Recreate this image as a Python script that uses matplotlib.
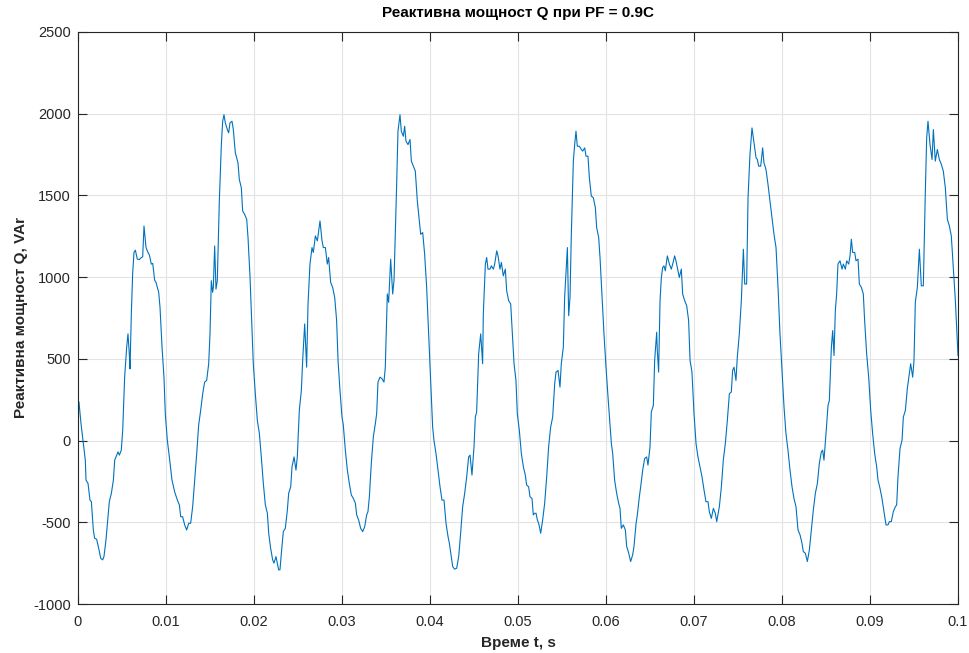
import matplotlib
matplotlib.use("Agg")
import matplotlib.pyplot as plt
import numpy as np

# time in ms, reactive power in VAr
t_ms = [0.11, 0.34, 0.61, 0.83, 0.91, 1.14, 1.36, 1.52, 1.74, 1.89, 2.12, 2.35, 2.58, 2.80, 2.95,
        3.18, 3.41, 3.56, 3.79, 4.02, 4.17, 4.32, 4.55, 4.70, 4.92, 5.08, 5.30, 5.53, 5.68, 5.83,
        5.91, 6.06, 6.21, 6.36, 6.52, 6.74, 6.97, 7.20, 7.35, 7.50, 7.73, 7.95, 8.11, 8.33, 8.49,
        8.71, 8.86,
        9.17, 9.32, 9.55, 9.77, 9.92, 10.15, 10.38, 10.68, 10.98, 11.29, 11.52, 11.67, 11.89, 12.12,
        12.35, 12.58, 12.80, 13.03, 13.26, 13.49, 13.71, 13.94, 14.17, 14.39, 14.62, 14.85, 15.00,
        15.15, 15.30, 15.38, 15.53, 15.68, 15.83, 16.06, 16.29, 16.44, 16.59, 16.74, 16.97, 17.12,
        17.27, 17.50, 17.65, 17.88, 18.03, 18.18,
        18.33, 18.56, 18.71, 18.94, 19.17, 19.32, 19.55, 19.77, 19.92, 20.15, 20.38, 20.61, 20.83,
        21.06, 21.29, 21.52, 21.67, 21.89, 22.12, 22.27, 22.50, 22.65, 22.80, 22.95, 23.11, 23.33,
        23.56, 23.79, 23.94, 24.17, 24.32, 24.55, 24.77, 24.92, 25.15, 25.38, 25.53, 25.76, 25.98,
        26.14, 26.36, 26.59, 26.74, 26.97, 27.20,
        27.50, 27.73, 27.88, 28.11, 28.33, 28.48, 28.71, 28.94, 29.17, 29.39, 29.55, 29.77, 30.00,
        30.15, 30.38, 30.61, 30.83, 31.06, 31.29, 31.52, 31.67, 31.89, 32.12, 32.35, 32.58, 32.80,
        32.95, 33.11, 33.33, 33.56, 33.79, 33.94, 34.09, 34.32, 34.55, 34.77, 34.92, 35.08, 35.15,
        35.30, 35.53, 35.76, 35.91, 36.06, 36.21, 36.36,
        36.59, 36.74, 36.97, 37.12, 37.27, 37.50, 37.73, 37.88, 38.11, 38.33, 38.56, 38.79, 38.94,
        39.17, 39.39, 39.62, 39.85, 40.08, 40.30, 40.45, 40.68, 40.91, 41.14, 41.36, 41.59, 41.82,
        42.05, 42.20, 42.42, 42.58, 42.80, 43.03, 43.26, 43.48, 43.71, 43.94, 44.17, 44.39, 44.55,
        44.77, 45.00, 45.15, 45.30,
        45.53, 45.76, 45.98, 46.06, 46.29, 46.44, 46.59, 46.82, 46.97, 47.20, 47.35, 47.58, 47.73,
        47.95, 48.11, 48.33, 48.56, 48.71, 48.94, 49.17, 49.32, 49.55, 49.77, 49.92, 50.15, 50.38,
        50.61, 50.83, 50.98, 51.21, 51.36, 51.59, 51.74, 51.89, 52.05, 52.20, 52.35, 52.58, 52.80,
        53.03, 53.26, 53.48, 53.71, 53.94, 54.17, 54.32, 54.55,
        54.77, 54.92, 55.15, 55.30, 55.45, 55.61, 55.76, 55.91, 56.06, 56.29, 56.44, 56.59, 56.74,
        56.97, 57.20, 57.35, 57.58, 57.73, 57.95, 58.11, 58.33, 58.56, 58.79, 58.94, 59.17, 59.32,
        59.55, 59.77, 60.00, 60.23, 60.45, 60.61, 60.76, 60.98, 61.21, 61.44, 61.59, 61.74, 61.97,
        62.20, 62.35, 62.58, 62.80, 63.03, 63.18,
        63.41, 63.56, 63.79, 63.94, 64.17, 64.39, 64.62, 64.77, 65.00, 65.15, 65.38, 65.53, 65.76,
        65.83, 65.98, 66.14, 66.29, 66.44, 66.59, 66.74, 66.97, 67.20, 67.42, 67.58, 67.80, 67.95,
        68.18, 68.33, 68.56, 68.71, 68.94, 69.17, 69.39, 69.55, 69.77, 70.00, 70.23, 70.45, 70.68,
        70.91, 71.14, 71.36, 71.59, 71.74, 71.97, 72.20, 72.42, 72.58,
        72.88, 73.11, 73.33, 73.56, 73.79, 74.02, 74.24, 74.39, 74.55, 74.77, 74.92, 75.15, 75.38,
        75.61, 75.76, 75.98, 76.14, 76.36, 76.59, 76.82, 77.05, 77.20, 77.35, 77.58, 77.80, 77.95,
        78.18, 78.41, 78.64, 78.86, 79.09, 79.32, 79.55, 79.77, 80.00, 80.23, 80.45, 80.68, 80.91,
        81.14, 81.36, 81.59, 81.82,
        82.05, 82.27, 82.42, 82.65, 82.88, 83.11, 83.33, 83.56, 83.79, 84.02, 84.24, 84.47, 84.62,
        84.77, 85.00, 85.23, 85.38, 85.61, 85.76, 85.91, 86.06, 86.21, 86.36, 86.59, 86.82, 86.97,
        87.20, 87.35, 87.58, 87.73, 87.88, 88.03, 88.26, 88.41, 88.64, 88.79, 89.02, 89.24, 89.39,
        89.62, 89.85, 90.08, 90.30, 90.53, 90.76,
        90.91, 91.14, 91.36, 91.59, 91.82, 92.05, 92.20, 92.42, 92.65, 92.88, 93.03, 93.18, 93.41,
        93.64, 93.79, 94.02, 94.24, 94.39, 94.62, 94.85, 95.00, 95.15, 95.38, 95.61, 95.83, 96.06,
        96.29, 96.44, 96.59, 96.82, 97.05, 97.20, 97.42, 97.65, 97.88, 98.11, 98.33, 98.56, 98.79,
        99.02, 99.24, 99.47, 99.70, 100.00]

q_var = [236, 104, -18, -120, -242, -262, -364, -374, -547, -598, -604, -659, -720, -730, -710,
         -608, -466, -374, -323, -242, -120, -100, -69, -89, -59, 63, 388, 571, 653, 531,
         439, 775, 1020, 1151, 1165, 1110, 1108, 1120, 1124, 1313, 1181, 1151, 1136, 1080, 1084,
         982, 968,
         907, 815, 571, 388, 165, 2, -100, -242, -313, -364, -394, -466, -466, -516,
         -547, -506, -506, -405, -242, -79, 94, 185, 287, 358, 368, 470, 653,
         978, 907, 937, 1191, 927, 978, 1466, 1811, 1954, 1994, 1944, 1903, 1883,
         1944, 1954, 1903, 1760, 1730, 1700,
         1598, 1547, 1405, 1384, 1354, 1242, 998, 693, 470, 287, 124, 43, -100,
         -262, -394, -445, -567, -659, -730, -750, -710, -750, -791, -791, -689, -557,
         -537, -425, -323, -283, -161, -100, -181, -100, 185, 307, 490, 714, 449,
         836, 1080, 1181, 1151, 1252, 1222,
         1344, 1222, 1181, 1181, 1080, 1120, 968, 937, 876, 734, 490, 307, 144,
         94, -59, -181, -262, -333, -354, -384, -455, -486, -537, -557, -527, -455,
         -435, -344, -140, 22, 104, 165, 358, 388, 378, 358, 449, 775, 897,
         846, 1110, 897, 978, 1262, 1567, 1893,
         1994, 1893, 1862, 1923, 1832, 1811, 1842, 1710, 1679, 1649, 1466, 1344, 1262,
         1273, 1141, 937, 653, 368, 83, 2, -79, -181, -283, -364, -364, -506,
         -588, -628, -710, -771, -787, -781, -710, -567, -405, -323, -222, -100, -89,
         -211, -39, 144, 175,
         531, 653, 470, 775, 1080, 1120, 1049, 1049, 1069, 1049, 1080, 1161, 1130,
         1049, 1090, 1008, 1049, 917, 856, 836, 693, 470, 368, 165, 63, -79,
         -161, -211, -272, -283, -344, -354, -455, -445, -445, -486, -506, -567, -486,
         -384, -222, -39, 83, 144, 348, 419, 429,
         327, 470, 571, 876, 1019, 1181, 764, 876, 1262, 1710, 1811, 1893, 1801,
         1801, 1781, 1771, 1791, 1740, 1740, 1608, 1496, 1486, 1425, 1303, 1242, 1120,
         876, 653, 449, 266, 104, -18, -79, -242, -323, -384, -415, -537, -516,
         -547, -648, -689, -740, -699, -648,
         -510, -455, -344, -283, -181, -110, -100, -150, -39, 175, 215, 490, 663,
         551, 419, 856, 998, 1059, 1069, 1039, 1130, 1080, 1049, 1080, 1130, 1100,
         1039, 998, 1049, 897, 856, 825, 734, 490, 419, 165, -18, -100, -161,
         -222, -303, -374, -374, -435, -476, -415, -445, -496,
         -405, -283, -120, -18, 124, 287, 297, 429, 449, 368, 510, 653, 856,
         1171, 958, 958, 1486, 1750, 1913, 1822, 1730, 1720, 1679, 1679, 1791, 1700,
         1659, 1567, 1466, 1364, 1262, 1181, 937, 653, 429, 205, 43, -59, -181,
         -283, -354, -405, -547,
         -577, -628, -679, -689, -740, -669, -547, -425, -323, -262, -140, -69, -59,
         -120, 43, 215, 246, 571, 673, 520, 795, 897, 1080, 1100, 1049, 1080,
         1049, 1100, 1080, 1130, 1232, 1151, 1151, 1100, 1110, 958, 937, 897, 734,
         531, 388, 185, 43, -79, -161,
         -242, -293, -354, -435, -516, -516, -496, -496, -435, -405, -394, -222, -49,
         2, 144, 185, 317, 378, 470, 388, 490, 846, 937, 1171, 947, 947,
         1527, 1852, 1954, 1811, 1720, 1903, 1710, 1781, 1720, 1690, 1649, 1547, 1354,
         1313, 1252, 1059, 856, 520]

x_ticks = [0, 0.01, 0.02, 0.03, 0.04, 0.05, 0.06, 0.07, 0.08, 0.09, 0.1]
x_labels = ['0', '0.01', '0.02', '0.03', '0.04', '0.05', '0.06', '0.07', '0.08', '0.09', '0.1']
y_ticks = [-1000, -500, 0, 500, 1000, 1500, 2000, 2500]

plt.rcParams['font.family'] = ['Liberation Sans', 'DejaVu Sans']
plt.rcParams['axes.unicode_minus'] = False

fig = plt.figure(figsize=(9.7, 6.53), dpi=100)
ax = fig.add_axes([78/970, 1 - 604/653, 880/970, 572/653])

t = np.array(t_ms) / 1000.0
ax.plot(t, q_var, color='#0072BD', lw=0.8)

ax.set_xlim(0, 0.1)
ax.set_ylim(-1000, 2500)
ax.set_xticks(x_ticks)
ax.set_xticklabels(x_labels)
ax.set_yticks(y_ticks)

ax.grid(True, color='#e3e3e3', lw=0.8)
ax.set_axisbelow(True)
ax.tick_params(direction='in', top=True, right=True, labelsize=10.5,
               colors='#262626', length=6.5, width=0.8)
ax.tick_params(axis='x', pad=8)
ax.tick_params(axis='y', pad=5)
for s in ax.spines.values():
    s.set_color('#262626')
    s.set_linewidth(0.8)

ax.set_title('Реактивна мощност Q при PF = 0.9C', fontsize=11, fontweight='bold',
             color='#000000', pad=11)
ax.set_xlabel('Време t, s', fontsize=11, fontweight='bold', color='#262626', labelpad=5)
ax.set_ylabel('Реактивна мощност Q, VAr', fontsize=11, fontweight='bold', color='#262626',
              labelpad=3.5)

fig.savefig('out.png', dpi=100)
